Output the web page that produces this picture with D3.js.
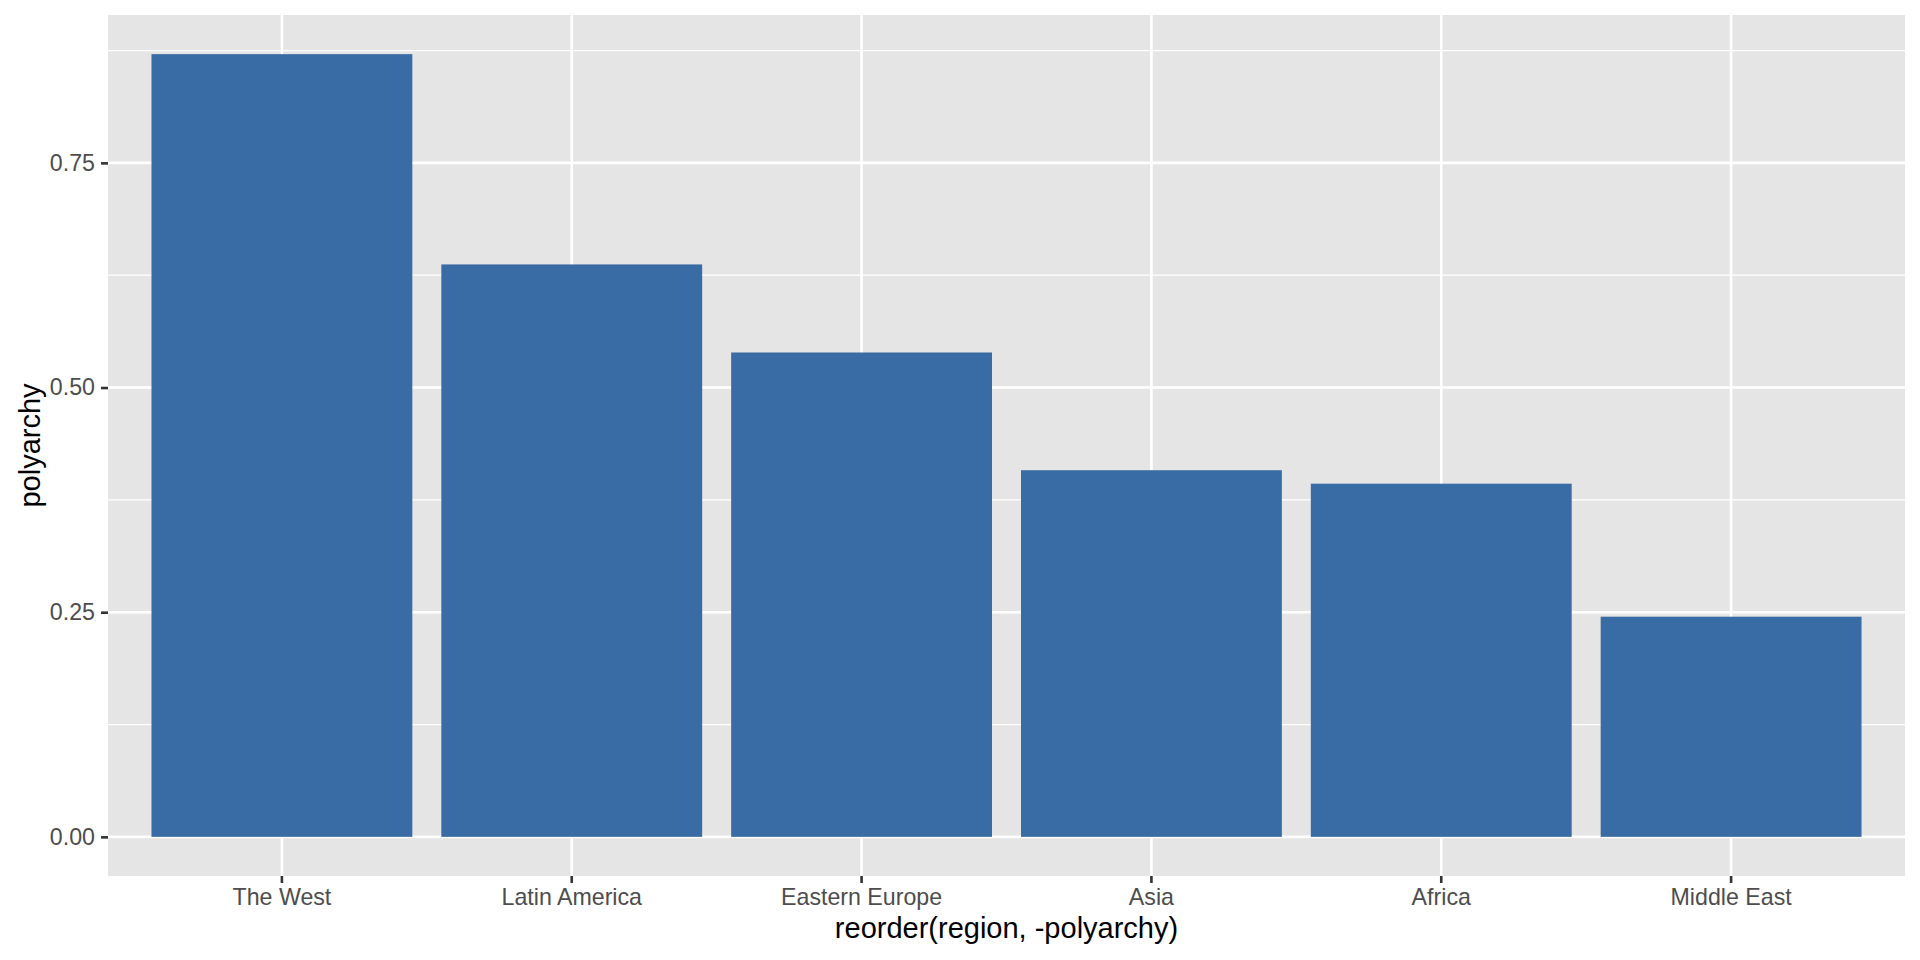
<!DOCTYPE html>
<html>
<head>
<meta charset="utf-8">
<script src="https://cdn.jsdelivr.net/npm/d3@7"></script>
<style>
  body { margin: 0; background: #fff; }
  text { font-family: "Liberation Sans", Arial, Helvetica, sans-serif; }
</style>
</head>
<body>
<div id="chart"></div>
<script>
// data
const regions = ["The West", "Latin America", "Eastern Europe", "Asia", "Africa", "Middle East"];
const polyarchy = [0.871, 0.637, 0.539, 0.408, 0.393, 0.245];
const yTicks = [0, 0.25, 0.5, 0.75];
const yTickLabels = ["0.00", "0.25", "0.50", "0.75"];
const yMinor = [0.125, 0.375, 0.625, 0.875];

const width = 1920;
const height = 960;
const margin = {top: 15, right: 15, bottom: 84, left: 108};

const data = regions.map((r, i) => ({region: r, value: polyarchy[i]}));

const svg = d3.select("#chart")
  .append("svg")
  .attr("width", width)
  .attr("height", height);

// ------- scales (ggplot style expansion) -------
const xScale = d3.scaleBand()
  .domain(regions)
  .range([margin.left, width - margin.right])
  .paddingInner(0.1)
  .paddingOuter(0.15);

const maxi = d3.max(polyarchy);
const yScale = d3.scaleLinear()
  .domain([-0.05 * maxi, maxi * 1.05])
  .range([height - margin.bottom, margin.top]);

const x0 = margin.left, x1 = width - margin.right;
const y0 = height - margin.bottom, y1 = margin.top;

// ------- panel -------
svg.append("rect")
  .attr("x", x0).attr("y", y1)
  .attr("width", x1 - x0).attr("height", y0 - y1)
  .attr("fill", "#E5E5E5");

const grid = svg.append("g");
grid.selectAll("line.minor")
  .data(yMinor)
  .join("line")
  .attr("class", "minor")
  .attr("x1", x0).attr("x2", x1)
  .attr("y1", d => yScale(d)).attr("y2", d => yScale(d))
  .attr("stroke", "#fff")
  .attr("stroke-width", 1.3);

grid.selectAll("line.hmajor")
  .data(yTicks)
  .join("line")
  .attr("class", "hmajor")
  .attr("x1", x0).attr("x2", x1)
  .attr("y1", d => yScale(d)).attr("y2", d => yScale(d))
  .attr("stroke", "#fff")
  .attr("stroke-width", 2.6);

grid.selectAll("line.vmajor")
  .data(regions)
  .join("line")
  .attr("class", "vmajor")
  .attr("x1", d => xScale(d) + xScale.bandwidth() / 2)
  .attr("x2", d => xScale(d) + xScale.bandwidth() / 2)
  .attr("y1", y1).attr("y2", y0)
  .attr("stroke", "#fff")
  .attr("stroke-width", 2.6);

// ------- bars -------
svg.append("g")
  .selectAll("rect")
  .data(data)
  .join("rect")
  .attr("x", d => xScale(d.region))
  .attr("width", xScale.bandwidth())
  .attr("y", d => yScale(d.value))
  .attr("height", d => yScale(0) - yScale(d.value))
  .attr("fill", "#396CA5");

// ------- axes -------
const xAxis = d3.axisBottom(xScale)
  .tickSize(7)
  .tickPadding(5);

const gx = svg.append("g")
  .attr("transform", `translate(0,${y0})`)
  .call(xAxis);
gx.select(".domain").remove();
gx.selectAll(".tick line").attr("stroke", "#333").attr("stroke-width", 2.6);
gx.selectAll(".tick text")
  .attr("fill", "#4D4D4D")
  .attr("font-size", "23.2px")
  .attr("dy", "0.72em");

const yAxis = d3.axisLeft(yScale)
  .tickValues(yTicks)
  .tickFormat((d, i) => yTickLabels[i])
  .tickSize(7)
  .tickPadding(6);

const gy = svg.append("g")
  .attr("transform", `translate(${x0},0)`)
  .call(yAxis);
gy.select(".domain").remove();
gy.selectAll(".tick line").attr("stroke", "#333").attr("stroke-width", 2.6);
gy.selectAll(".tick text")
  .attr("fill", "#4D4D4D")
  .attr("font-size", "23.2px");

// ------- titles -------
svg.append("text")
  .attr("x", (x0 + x1) / 2)
  .attr("y", 938)
  .attr("text-anchor", "middle")
  .attr("font-size", "29px")
  .attr("fill", "#000")
  .text("reorder(region, -polyarchy)");

svg.append("text")
  .attr("transform", `translate(40,${(y0 + y1) / 2}) rotate(-90)`)
  .attr("text-anchor", "middle")
  .attr("font-size", "29px")
  .attr("fill", "#000")
  .text("polyarchy");
</script>
</body>
</html>
